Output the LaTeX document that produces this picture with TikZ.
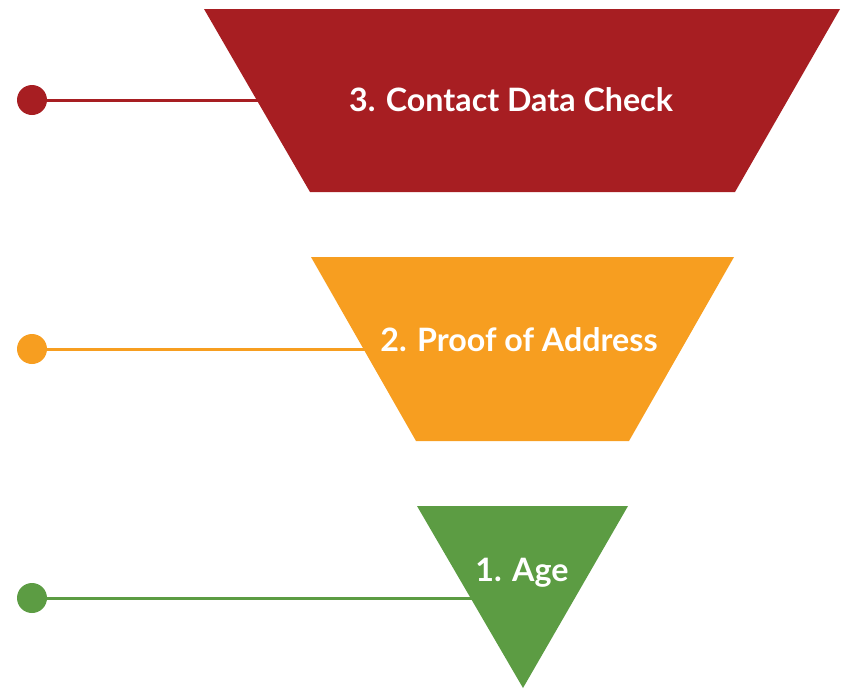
\documentclass[tikz,border=0pt]{standalone}
\usepackage{fontspec}
\setmainfont{Lato}
\definecolor{checkred}{HTML}{A71E22}
\definecolor{addrorange}{HTML}{F79E20}
\definecolor{agegreen}{HTML}{5C9C43}
\tikzset{
  dot/.style={circle, fill=#1, inner sep=0pt, minimum size=30*0.03cm},
  stagetext/.style={text=white, font=\fontsize{27.5}{32}\selectfont\bfseries},
  link/.style={#1, line width=3*0.03cm}
}
\begin{document}
\begin{tikzpicture}[x=0.03cm, y=-0.03cm]
        \useasboundingbox (0,0) rectangle (844,688);
        % markers on the left
        \node[dot=checkred] (dot3) at (32,100) {};
        \node[dot=addrorange] (dot2) at (32,349) {};
        \node[dot=agegreen] (dot1) at (32,598) {};
        \coordinate (in3) at (300,100);
        \coordinate (in2) at (400,349);
        \coordinate (in1) at (480,598);
        \draw[link=checkred] (dot3) -- (in3);
        \draw[link=addrorange] (dot2) -- (in2);
        \draw[link=agegreen] (dot1) -- (in1);
        % funnel stages
        \fill[checkred] (204,9) -- (840,9) -- (735,192) -- (310,192) -- cycle;
        \fill[addrorange] (311,257) -- (734,257) -- (629,441) -- (416,441) -- cycle;
        \fill[agegreen] (417,506) -- (628,506) -- (523,688) -- cycle;
        \node[stagetext] (stage3) at (511,100) {3. Contact Data Check};
        \node[stagetext] (stage2) at (519,340) {2. Proof of Address};
        \node[stagetext] (stage1) at (522,573) {1. Age};
    \end{tikzpicture}
\end{document}
